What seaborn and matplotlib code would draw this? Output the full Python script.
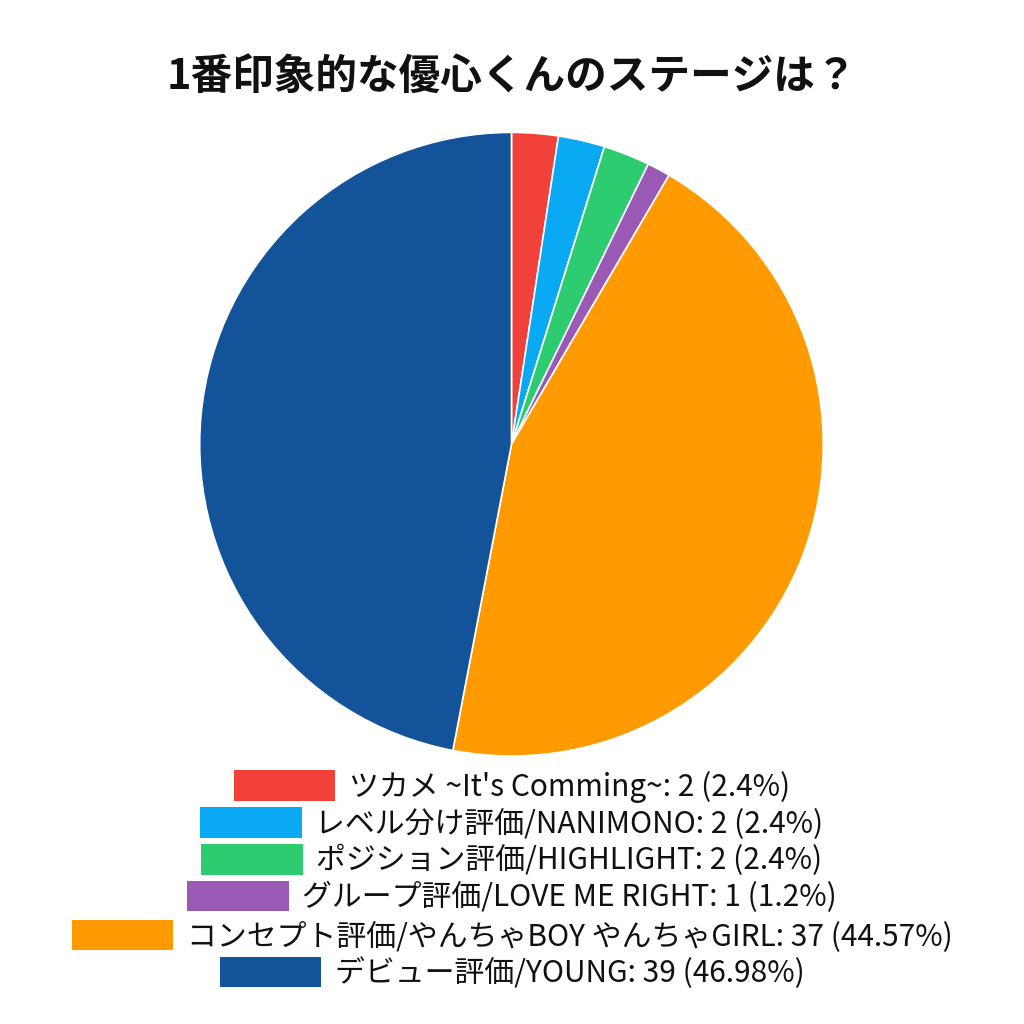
import seaborn as sns
import matplotlib.pyplot as plt
from matplotlib.patches import Patch

# データ
categories = [
    "ツカメ ~It's Comming~",
    "レベル分け評価/NANIMONO",
    "ポジション評価/HIGHLIGHT",
    "グループ評価/LOVE ME RIGHT",
    "コンセプト評価/やんちゃBOY やんちゃGIRL",
    "デビュー評価/YOUNG",
]
votes = [2, 2, 2, 1, 37, 39]
pct_labels = ["2.4%", "2.4%", "2.4%", "1.2%", "44.57%", "46.98%"]
colors = ["#F2413A", "#09A9F4", "#2ECC71", "#9B59B6", "#FF9A00", "#135399"]
title = "1番印象的な優心くんのステージは？"

sns.set_theme(style="white")
plt.rcParams["font.family"] = ["Noto Sans CJK JP", "DejaVu Sans"]

fig = plt.figure(figsize=(10.24, 10.24), dpi=100)
ax = fig.add_axes([0.195, 0.2617, 0.609, 0.609])
ax.pie(votes, colors=colors, startangle=90, counterclock=False,
       wedgeprops=dict(edgecolor="white", linewidth=1.2))
ax.set_xlim(-1, 1)
ax.set_ylim(-1, 1)
ax.set_aspect("equal")

fig.text(0.5, 0.924, title, ha="center", va="center",
         fontsize=30, fontweight="bold", color="#111111")

# 凡例: 行ごとに中央揃え
row_y = [0.232, 0.196, 0.160, 0.124, 0.086, 0.050]
for name, v, p, c, y in zip(categories, votes, pct_labels, colors, row_y):
    handle = Patch(facecolor=c, edgecolor="none")
    fig.legend([handle], [f"{name}: {v} ({p})"], loc="center",
               bbox_to_anchor=(0.5, y), frameon=False, fontsize=21.5,
               handlelength=3.4, handleheight=1.2, handletextpad=0.45,
               borderpad=0, labelcolor="#111111")

fig.savefig("out.png", dpi=100, facecolor="white")
